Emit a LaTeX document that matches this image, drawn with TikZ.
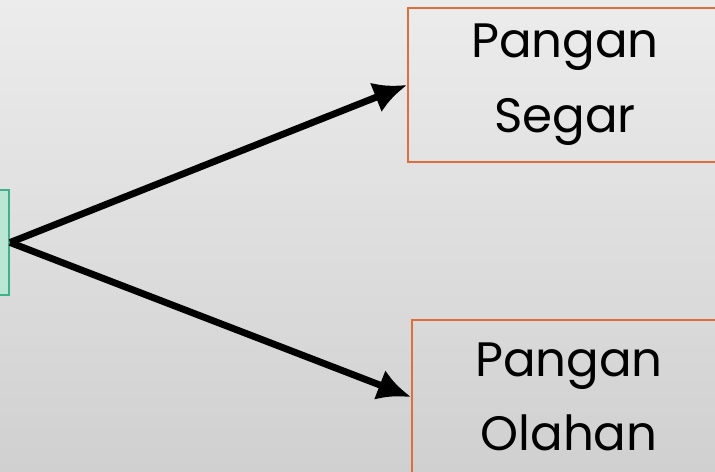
\documentclass[tikz,border=0pt]{standalone}
\usepackage{fontspec}
\setmainfont{Poppins}
\usepackage{tikz}
\usetikzlibrary{shapes,arrows,arrows.meta}
\usetikzlibrary{positioning}
\definecolor{mintfill}{RGB}{186,230,214}
\definecolor{mintline}{RGB}{64,176,140}
\definecolor{rustline}{RGB}{222,110,60}
\tikzstyle{source} = [rectangle, draw=mintline, fill=mintfill, line width=1.2pt,
    minimum width=2cm, minimum height=2.1cm]
\tikzstyle{block} = [rectangle, draw=rustline, line width=1.2pt, text centered,
    minimum width=6.28cm, minimum height=3.08cm, align=center,
    font=\fontsize{27.5}{42.5}\selectfont]
\tikzstyle{line} = [draw, line width=3.9pt, -{Latex[length=19pt,width=18pt]}]

\begin{document}
\begin{tikzpicture}[x=0.02cm,y=-0.02cm]
    % background
    \shade[top color={rgb,255:red,236;green,236;blue,236},
           bottom color={rgb,255:red,208;green,208;blue,208}]
        (0,0) rectangle (715,472);
    \useasboundingbox (0,0) rectangle (715,472);
    \clip (0,0) rectangle (715,472);
    % Place nodes
    \node [source] (src) at (-41,242.5) {};
    \node [block] (segar) at (565,85) {Pangan\\Segar};
    \node [block] (olahan) at (569,397) {Pangan\\Olahan};
    % Draw edges
    \path [line] (src.east) -- (segar.west);
    \path [line] (src.east) -- (olahan.west);
\end{tikzpicture}
\end{document}
